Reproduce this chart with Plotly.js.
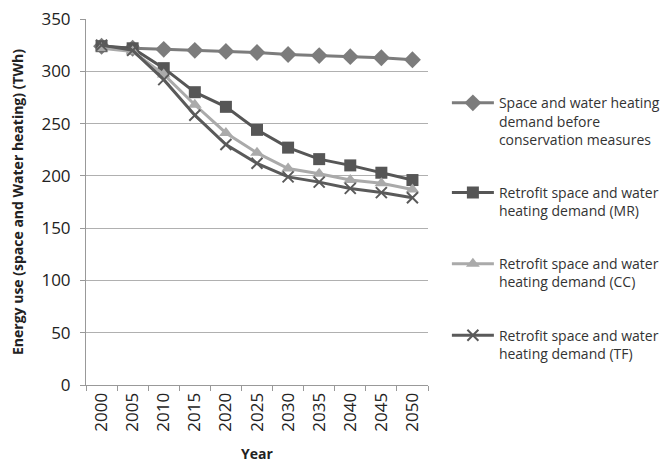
<!DOCTYPE html>
<html><head><meta charset="utf-8">
<script src="https://cdn.plot.ly/plotly-3.0.1.min.js"></script>
<style>body{margin:0;background:#fff}#chart{width:667px;height:464px}</style>
</head><body><div id="chart"></div>
<script>
const years = ["2000","2005","2010","2015","2020","2025","2030","2035","2040","2045","2050"];
const beforeConservation = [324, 322, 321, 320, 319, 318, 316, 315, 314, 313, 311];
const retrofitMR = [324, 322, 303, 280, 266, 244, 227, 216, 210, 203, 196];
const retrofitCC = [322, 319, 297, 268, 241, 222, 207, 202, 196, 193, 187];
const retrofitTF = [325, 320, 292, 258, 230, 212, 199, 194, 188, 184, 179];
const seriesNames = [
  "Space and water heating<br>demand before<br>conservation measures",
  "Retrofit space and water<br>heating demand (MR)",
  "Retrofit space and water<br>heating demand (CC)",
  "Retrofit space and water<br>heating demand (TF)"
];

const font = "Open Sans, Noto Sans, sans-serif";
function tr(y, name, color, symbol, size, g) {
  return {x: years, y: y, name: name, type: "scatter", mode: "lines+markers",
    legendgroup: g,
    line: {color: color, width: 3},
    marker: {symbol: symbol, size: size, color: color, line: {color: color, width: symbol === "x-thin" ? 2 : 0}}};
}
const data = [
  tr(beforeConservation, seriesNames[0], "#7c7c7c", "diamond", 13, "a"),
  tr(retrofitMR, seriesNames[1], "#565656", "square", 12, "b"),
  tr(retrofitCC, seriesNames[2], "#aaaaaa", "triangle-up", 12, "c"),
  tr(retrofitTF, seriesNames[3], "#5a5a5a", "x-thin", 11, "d")
];
const layout = {
  width: 667, height: 464,
  margin: {l: 86, r: 239, t: 19, b: 79},
  paper_bgcolor: "#fff", plot_bgcolor: "#fff",
  font: {family: font, color: "#222", size: 15},
  showlegend: true,
  legend: {xref: "container", yref: "container", x: 0.670, xanchor: "left", y: 0.812, yanchor: "top",
    traceorder: "grouped", tracegroupgap: 32, valign: "top", maxheight: 420,
    font: {family: font, size: 14, color: "#333"}, itemwidth: 42},
  xaxis: {type: "category", range: [-0.5, 10.5], tickangle: -90,
    tickson: "boundaries", ticks: "outside", ticklen: 5, tickcolor: "#999",
    showline: true, linecolor: "#999", showgrid: false, zeroline: false,
    tickfont: {size: 17, color: "#222"},
    title: {text: "<b>Year</b>", font: {size: 14, color: "#222"}, standoff: 18}},
  yaxis: {range: [0, 350], dtick: 50, ticks: "outside", ticklen: 5, tickcolor: "#999",
    ticklabelstandoff: 6,
    showline: true, linecolor: "#999", showgrid: true, gridcolor: "#b0b0b0", zeroline: false,
    tickfont: {size: 17, color: "#222"},
    title: {text: "<b>Energy use (space and Water heating) (TWh)</b>", font: {size: 14, color: "#222"}, standoff: 14}}
};
Plotly.newPlot("chart", data, layout, {displayModeBar: false, staticPlot: true});
</script></body></html>
